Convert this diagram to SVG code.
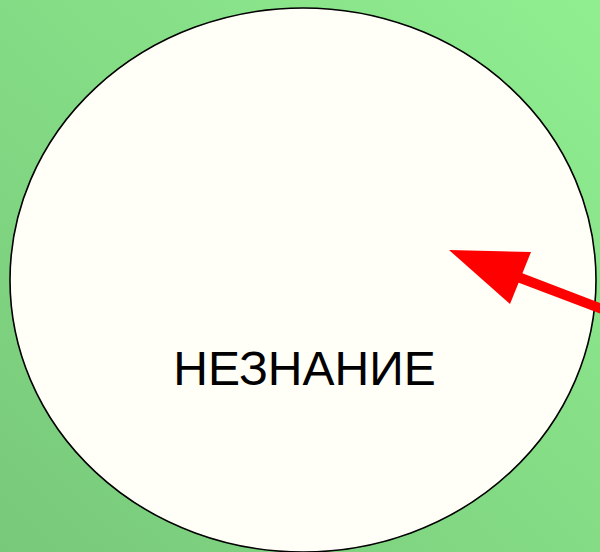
<svg xmlns="http://www.w3.org/2000/svg" width="600" height="552" viewBox="0 0 600 552">
  <defs>
    <linearGradient id="bg" x1="0" y1="1" x2="1" y2="0">
      <stop offset="0" stop-color="#78c97a"/>
      <stop offset="1" stop-color="#90ee90"/>
    </linearGradient>
    <style>
      .lbl { font-family: "Liberation Sans", Arial, sans-serif; font-size: 48px; fill: #000; }
    </style>
  </defs>
  <rect x="0" y="0" width="600" height="552" fill="url(#bg)"/>
  <g id="node-neznanie">
    <ellipse cx="303" cy="280" rx="293" ry="272" fill="#fffff7" stroke="#000" stroke-width="1.6"/>
    <text class="lbl" x="304.5" y="385" text-anchor="middle">НЕЗНАНИЕ</text>
  </g>
  <g id="connectors">
    <line x1="602" y1="309" x2="518" y2="277" stroke="#ff0000" stroke-width="10"/>
    <polygon points="449,250 531,252 510,304" fill="#ff0000"/>
  </g>
</svg>
